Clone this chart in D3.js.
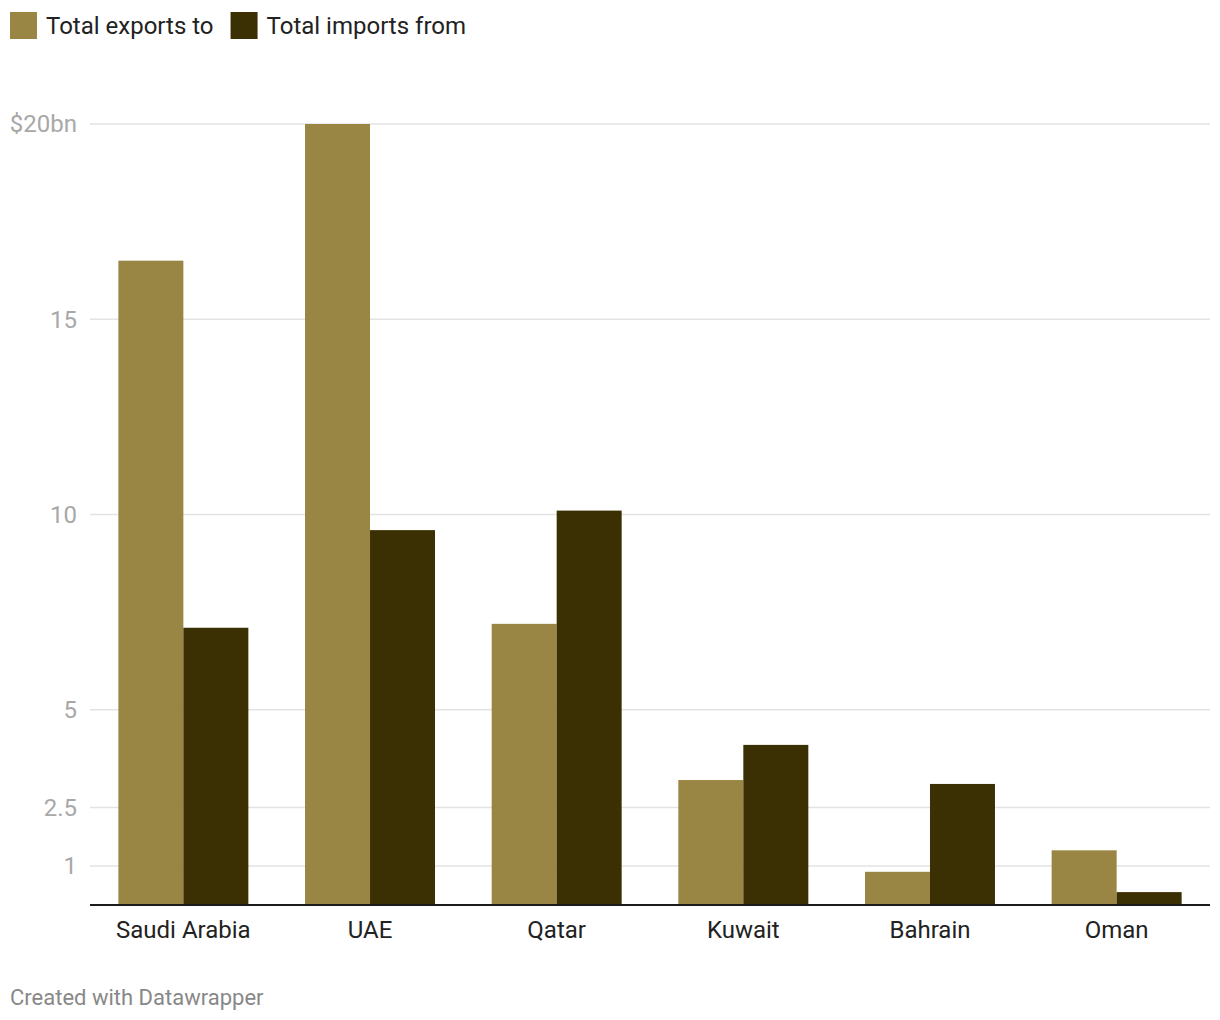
<!DOCTYPE html>
<html>
<head>
<meta charset="utf-8">
<script src="https://cdn.jsdelivr.net/npm/d3@7"></script>
<style>
  body { margin: 0; background: #fff; font-family: Roboto, sans-serif; }
</style>
</head>
<body>
<div id="chart"></div>
<script>
var countries = ["Saudi Arabia", "UAE", "Qatar", "Kuwait", "Bahrain", "Oman"],
    exportsTo = [16.5, 20.0, 7.2, 3.2, 0.85, 1.4],
    importsFrom = [7.1, 9.6, 10.1, 4.1, 3.1, 0.33],
    seriesNames = ["Total exports to", "Total imports from"],
    seriesColors = ["#998544", "#3b2f04"],
    tickValues = [0, 1, 2.5, 5, 10, 15, 20],
    tickLabels = ["", "1", "2.5", "5", "10", "15", "$20bn"];

var w = 1220, h = 1020;
var margin = { top: 124, left: 90, right: 10, bottom: 115 };

var svg = d3.select("#chart").append("svg")
    .attr("width", w)
    .attr("height", h);

// legend
var legend = svg.append("g");
var lx = 10;
seriesNames.forEach(function (name, i) {
    legend.append("rect")
        .attr("x", lx).attr("y", 12)
        .attr("width", 27).attr("height", 27)
        .attr("fill", seriesColors[i]);
    var t = legend.append("text")
        .attr("x", lx + 36).attr("y", 26)
        .attr("dy", "0.35em")
        .style("font-size", "24px")
        .style("fill", "#222")
        .text(name);
    lx += 36 + t.node().getComputedTextLength() + 17;
});

var y = d3.scaleLinear()
    .domain([0, 20])
    .range([h - margin.bottom, margin.top]);

var x0 = d3.scaleBand()
    .domain(countries)
    .range([margin.left, w - margin.right])
    .paddingInner(0.3036)
    .paddingOuter(0.152);

var x1 = d3.scaleBand()
    .domain([0, 1])
    .range([0, x0.bandwidth()]);

// gridlines + tick labels
var grid = svg.append("g");
tickValues.forEach(function (v, i) {
    if (v === 0) return;
    grid.append("line")
        .attr("x1", margin.left).attr("x2", w - margin.right)
        .attr("y1", y(v)).attr("y2", y(v))
        .attr("stroke", "#e3e3e3")
        .attr("stroke-width", 1.5);
    grid.append("text")
        .attr("x", 77).attr("y", y(v))
        .attr("dy", "0.35em")
        .attr("text-anchor", "end")
        .style("font-size", "24px")
        .style("fill", "#a8a8a8")
        .text(tickLabels[i]);
});

// bars
var groups = svg.selectAll(".group")
    .data(countries)
    .enter().append("g")
    .attr("transform", function (d) { return "translate(" + x0(d) + ",0)"; });

groups.selectAll("rect")
    .data(function (d, i) { return [exportsTo[i], importsFrom[i]]; })
    .enter().append("rect")
    .attr("x", function (d, j) { return x1(j); })
    .attr("y", function (d) { return y(d); })
    .attr("width", x1.bandwidth())
    .attr("height", function (d) { return y(0) - y(d); })
    .attr("fill", function (d, j) { return seriesColors[j]; });

// baseline
svg.append("line")
    .attr("x1", margin.left).attr("x2", w - margin.right)
    .attr("y1", y(0)).attr("y2", y(0))
    .attr("stroke", "#1a1a1a")
    .attr("stroke-width", 2);

// x labels
svg.selectAll(".xlabel")
    .data(countries)
    .enter().append("text")
    .attr("x", function (d) { return x0(d) + x0.bandwidth() / 2; })
    .attr("y", y(0) + 25)
    .attr("dy", "0.35em")
    .attr("text-anchor", "middle")
    .style("font-size", "24px")
    .style("fill", "#222")
    .text(function (d) { return d; });

// footer
svg.append("text")
    .attr("x", 10).attr("y", 997)
    .attr("dy", "0.35em")
    .style("font-size", "22px")
    .style("fill", "#888")
    .text("Created with Datawrapper");
</script>
</body>
</html>
